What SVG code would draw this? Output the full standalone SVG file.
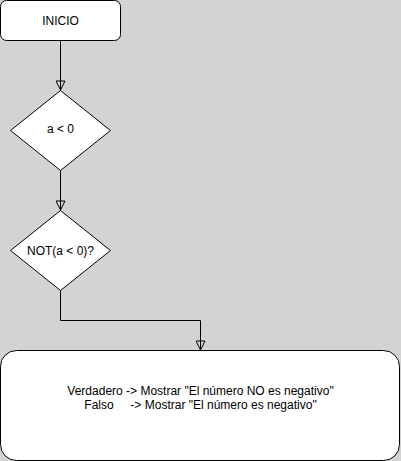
<svg xmlns="http://www.w3.org/2000/svg" width="401" height="461" viewBox="0 0 401 461">
<defs>
<style>
.n{fill:#ffffff;stroke:#000000;stroke-width:1}
.t{font-family:"Liberation Sans",Arial,sans-serif;font-size:12px;fill:#000000;text-anchor:middle;white-space:pre}
.c{fill:none;stroke:#000000;stroke-width:1}
</style>
<marker id="arr" viewBox="0 0 10 10" refX="10" refY="5" markerWidth="10" markerHeight="10" markerUnits="userSpaceOnUse" orient="auto">
<path d="M1,0.5 L10,5 L1,9.5 Z" fill="none" stroke="#000000" stroke-width="1"/>
</marker>
</defs>
<rect x="0" y="0" width="401" height="461" fill="#d3d3d3"/>
<g id="connectors">
<path class="c" d="M60.5,40.5 V90" marker-end="url(#arr)"/>
<path class="c" d="M60.5,170.5 V210" marker-end="url(#arr)"/>
<path class="c" d="M60.5,290.5 V320.5 H200.5 V350" marker-end="url(#arr)"/>
</g>
<g id="inicio">
<rect class="n" x="0.5" y="0.5" width="120" height="40" rx="6" ry="6"/>
<text class="t" x="60.5" y="24.5">INICIO</text>
</g>
<g id="cond1">
<path class="n" d="M60.5,90.5 L110.5,130.5 L60.5,170.5 L10.5,130.5 Z"/>
<text class="t" x="60.5" y="132.5">a &lt; 0</text>
</g>
<g id="cond2">
<path class="n" d="M60.5,210.5 L110.5,250.5 L60.5,290.5 L10.5,250.5 Z"/>
<text class="t" x="60.5" y="254.5">NOT(a &lt; 0)?</text>
</g>
<g id="result">
<rect class="n" x="0.5" y="350.5" width="399" height="110" rx="16" ry="16"/>
<text class="t" x="200.5" y="394.5">Verdadero -&gt; Mostrar "El número NO es negativo"</text>
<text class="t" x="200.5" y="408.5">Falso     -&gt; Mostrar "El número es negativo"</text>
</g>
</svg>
